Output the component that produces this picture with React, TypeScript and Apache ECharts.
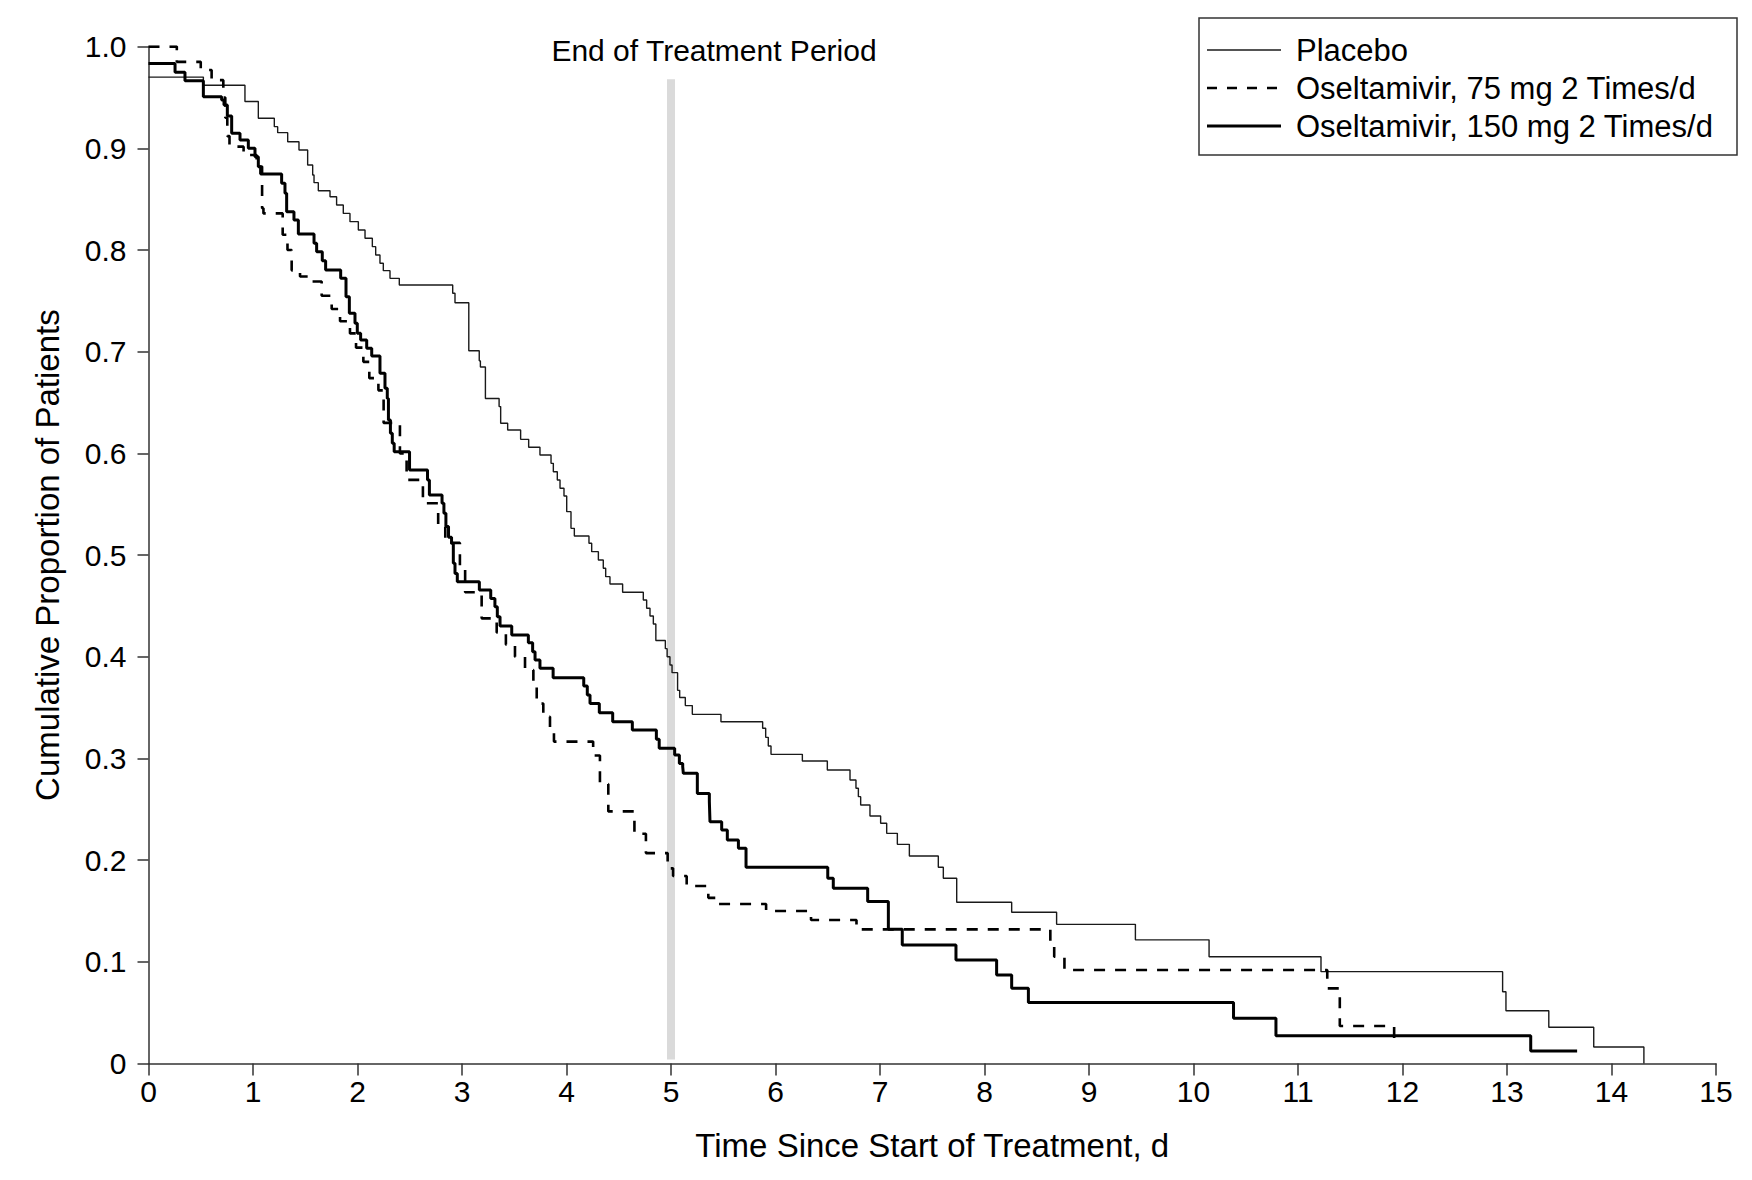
import React, { useEffect, useRef } from "react";
import * as echarts from "echarts";

// ---- Data ----
const placeboTimes = [0, 0.525, 0.923, 1.051, 1.204, 1.236, 1.332, 1.44, 1.523, 1.571, 1.584, 1.625, 1.737, 1.8, 1.864, 1.928, 2.008, 2.072, 2.142, 2.174, 2.215, 2.247, 2.311, 2.4, 2.911, 2.933, 3.065, 3.165, 3.176, 3.224, 3.355, 3.37, 3.437, 3.561, 3.638, 3.746, 3.852, 3.874, 3.912, 3.938, 3.976, 4.002, 4.043, 4.075, 4.215, 4.241, 4.305, 4.352, 4.375, 4.416, 4.537, 4.735, 4.767, 4.799, 4.831, 4.855, 4.946, 4.963, 4.99, 5.01, 5.063, 5.083, 5.137, 5.204, 5.478, 5.877, 5.906, 5.931, 5.957, 6.257, 6.496, 6.713, 6.77, 6.793, 6.815, 6.904, 7.006, 7.064, 7.166, 7.281, 7.558, 7.606, 7.734, 8.26, 8.69, 9.444, 10.149, 11.22, 12.958, 12.99, 13.4, 13.83, 14.31];
const placeboValues = [0.97, 0.962, 0.946, 0.9295, 0.9213, 0.9154, 0.9065, 0.8983, 0.8836, 0.8737, 0.8662, 0.8583, 0.8524, 0.8442, 0.836, 0.8279, 0.8197, 0.8115, 0.8033, 0.7951, 0.7869, 0.7797, 0.7721, 0.7656, 0.7574, 0.7482, 0.701, 0.691, 0.685, 0.654, 0.646, 0.6296, 0.623, 0.6138, 0.606, 0.5984, 0.5902, 0.582, 0.5738, 0.5657, 0.5581, 0.5427, 0.5263, 0.5188, 0.5116, 0.5034, 0.4952, 0.487, 0.4788, 0.4716, 0.4634, 0.4559, 0.4477, 0.4401, 0.4322, 0.416, 0.408, 0.4, 0.392, 0.3844, 0.367, 0.36, 0.352, 0.3434, 0.3362, 0.3297, 0.3208, 0.3123, 0.3041, 0.2975, 0.2887, 0.2789, 0.2707, 0.2625, 0.2543, 0.2435, 0.2363, 0.2264, 0.2156, 0.2041, 0.193, 0.1822, 0.1586, 0.1488, 0.1369, 0.1217, 0.1051, 0.0904, 0.0707, 0.052, 0.0357, 0.0163, 0];

const osel75Times = [0, 0.271, 0.5, 0.604, 0.716, 0.735, 0.754, 0.775, 0.91, 1.035, 1.087, 1.1, 1.284, 1.33, 1.37, 1.45, 1.55, 1.657, 1.753, 1.833, 1.928, 1.986, 2.056, 2.113, 2.2, 2.25, 2.406, 2.47, 2.626, 2.772, 2.84, 2.98, 3.03, 3.188, 3.332, 3.42, 3.507, 3.603, 3.683, 3.715, 3.778, 3.842, 3.88, 4.255, 4.32, 4.4, 4.65, 4.76, 4.968, 5.02, 5.15, 5.357, 5.443, 5.91, 6.34, 6.775, 8.63, 8.667, 8.765, 11.28, 11.4, 11.92];
const osel75Values = [1.0, 0.985, 0.977, 0.967, 0.95, 0.93, 0.912, 0.9016, 0.8934, 0.882, 0.841, 0.836, 0.815, 0.8, 0.78, 0.774, 0.769, 0.755, 0.742, 0.73, 0.718, 0.704, 0.69, 0.674, 0.662, 0.63, 0.6, 0.574, 0.551, 0.528, 0.512, 0.49, 0.4634, 0.4378, 0.424, 0.412, 0.4, 0.387, 0.372, 0.354, 0.341, 0.33, 0.3166, 0.303, 0.275, 0.248, 0.226, 0.207, 0.192, 0.1845, 0.1747, 0.163, 0.1569, 0.15, 0.1412, 0.132, 0.115, 0.105, 0.092, 0.074, 0.037, 0.017];

const osel150Times = [0, 0.254, 0.349, 0.525, 0.7, 0.7225, 0.7544, 0.7959, 0.8756, 0.9553, 1.019, 1.051, 1.073, 1.274, 1.306, 1.322, 1.392, 1.434, 1.584, 1.609, 1.663, 1.695, 1.839, 1.89, 1.922, 1.976, 1.998, 2.03, 2.088, 2.136, 2.215, 2.263, 2.285, 2.296, 2.315, 2.333, 2.351, 2.498, 2.67, 2.688, 2.809, 2.827, 2.846, 2.871, 2.9, 2.917, 2.933, 2.955, 3.166, 3.275, 3.315, 3.338, 3.364, 3.476, 3.635, 3.676, 3.699, 3.746, 3.872, 4.165, 4.199, 4.225, 4.314, 4.442, 4.63, 4.86, 4.887, 5.035, 5.08, 5.112, 5.118, 5.252, 5.367, 5.373, 5.485, 5.539, 5.645, 5.718, 6.5, 6.553, 6.882, 7.08, 7.213, 7.727, 8.116, 8.26, 8.42, 10.383, 10.789, 13.227, 13.671];
const osel150Values = [0.9835, 0.9747, 0.9665, 0.9508, 0.9475, 0.9426, 0.9318, 0.9147, 0.9082, 0.9, 0.8918, 0.8819, 0.8747, 0.8656, 0.8557, 0.8377, 0.8295, 0.8157, 0.8066, 0.7984, 0.7895, 0.7803, 0.7721, 0.7541, 0.7377, 0.7279, 0.7181, 0.7115, 0.7033, 0.6958, 0.6787, 0.664, 0.6541, 0.6328, 0.6197, 0.6099, 0.6017, 0.5837, 0.5738, 0.5591, 0.5509, 0.5411, 0.528, 0.5175, 0.5116, 0.4919, 0.482, 0.4739, 0.4657, 0.4574, 0.4492, 0.4394, 0.4302, 0.4214, 0.4138, 0.405, 0.3968, 0.3887, 0.3795, 0.3712, 0.3624, 0.3542, 0.345, 0.3362, 0.328, 0.3189, 0.31, 0.3035, 0.2952, 0.292, 0.2854, 0.2657, 0.2576, 0.2379, 0.2297, 0.2199, 0.2117, 0.193, 0.1822, 0.1724, 0.1593, 0.1321, 0.1167, 0.1019, 0.0872, 0.074, 0.06, 0.0445, 0.0275, 0.0124, 0.0124];

// End-of-treatment marker (day 5), drawn from 0.004 to 0.968
const treatmentEndTimes = [5, 5];
const treatmentEndValues = [0.004, 0.968];

const seriesNames = ["Placebo", "Oseltamivir, 75 mg 2 Times/d", "Oseltamivir, 150 mg 2 Times/d"];
const xAxisTitle = "Time Since Start of Treatment, d";
const yAxisTitle = "Cumulative Proportion of Patients";
const annotationText = "End of Treatment Period";

const FONT = "'Liberation Sans', Arial, Helvetica, sans-serif";

function toPairs(t: number[], v: number[]) {
  return t.map((x, i) => [x, v[i]]);
}

export default function App() {
  const ref = useRef<HTMLDivElement>(null);

  useEffect(() => {
    if (!ref.current) return;
    const chart = echarts.init(ref.current, undefined, { renderer: "svg" });

    const legendX = 1199;
    const legendY = 18;
    const rowY = [50, 88, 126];
    const lineX1 = 1207;
    const lineX2 = 1281;
    const textX = 1296;

    const option: any = {
      animation: false,
      backgroundColor: "#ffffff",
      textStyle: { fontFamily: FONT },
      grid: { left: 148.5, right: 36, top: 46.6, bottom: 116.4, containLabel: false },
      xAxis: {
        type: "value",
        min: 0,
        max: 15,
        interval: 1,
        name: xAxisTitle,
        nameLocation: "middle",
        nameGap: 65,
        nameTextStyle: { fontSize: 33, color: "#000", fontFamily: FONT },
        axisLine: { show: true, onZero: false, lineStyle: { color: "#333", width: 1.5 } },
        axisTick: { show: true, inside: false, length: 12, lineStyle: { color: "#333", width: 1.5 } },
        axisLabel: { fontSize: 30, color: "#000", margin: 13, fontFamily: FONT },
        splitLine: { show: false },
      },
      yAxis: {
        type: "value",
        min: 0,
        max: 1,
        interval: 0.1,
        name: yAxisTitle,
        nameLocation: "middle",
        nameGap: 85,
        nameTextStyle: { fontSize: 33, color: "#000", fontFamily: FONT },
        axisLine: { show: true, lineStyle: { color: "#333", width: 1.5 } },
        axisTick: { show: true, inside: false, length: 11, lineStyle: { color: "#333", width: 1.5 } },
        axisLabel: {
          fontSize: 30,
          color: "#000",
          margin: 22,
          fontFamily: FONT,
          formatter: (v: number) => (Math.abs(v) < 1e-9 ? "0" : v.toFixed(1)),
        },
        splitLine: { show: false },
      },
      series: [
        {
          name: "End of Treatment",
          type: "line",
          data: toPairs(treatmentEndTimes, treatmentEndValues),
          symbol: "none",
          silent: true,
          z: 1,
          lineStyle: { color: "#dadada", width: 8, cap: "butt" },
        },
        {
          name: seriesNames[0],
          type: "line",
          step: "end",
          data: toPairs(placeboTimes, placeboValues),
          symbol: "none",
          z: 3,
          lineStyle: { color: "#1a1a1a", width: 1.4 },
        },
        {
          name: seriesNames[1],
          type: "line",
          step: "end",
          data: toPairs(osel75Times, osel75Values),
          symbol: "none",
          z: 3,
          lineStyle: { color: "#000", width: 2.6, type: [11, 10] },
        },
        {
          name: seriesNames[2],
          type: "line",
          step: "end",
          data: toPairs(osel150Times, osel150Values),
          symbol: "none",
          z: 3,
          lineStyle: { color: "#000", width: 3 },
        },
      ],
      graphic: [
        {
          type: "text",
          x: 714,
          y: 50,
          z: 10,
          style: {
            text: annotationText,
            fontSize: 30,
            fontFamily: FONT,
            fill: "#000",
            align: "center",
            verticalAlign: "middle",
            textAlign: "center",
            textVerticalAlign: "middle",
          },
        },
        {
          type: "rect",
          z: 10,
          shape: { x: legendX, y: legendY, width: 538, height: 137 },
          style: { fill: "#fff", stroke: "#333", lineWidth: 1.5 },
        },
        {
          type: "line",
          z: 11,
          shape: { x1: lineX1, y1: rowY[0], x2: lineX2, y2: rowY[0] },
          style: { stroke: "#1a1a1a", lineWidth: 1.4 },
        },
        {
          type: "line",
          z: 11,
          shape: { x1: lineX1, y1: rowY[1], x2: lineX2, y2: rowY[1] },
          style: { stroke: "#000", lineWidth: 2.6, lineDash: [10, 10] },
        },
        {
          type: "line",
          z: 11,
          shape: { x1: lineX1, y1: rowY[2], x2: lineX2, y2: rowY[2] },
          style: { stroke: "#000", lineWidth: 3 },
        },
        ...seriesNames.map((name, i) => ({
          type: "text",
          x: textX,
          y: rowY[i],
          z: 11,
          style: {
            text: name,
            fontSize: 31,
            fontFamily: FONT,
            fill: "#000",
            align: "left",
            verticalAlign: "middle",
            textAlign: "left",
            textVerticalAlign: "middle",
          },
        })),
      ],
    };

    chart.setOption(option);
    return () => {
      chart.dispose();
    };
  }, []);

  return (
    <div
      ref={ref}
      style={{ position: "fixed", left: 0, top: 0, width: 1752, height: 1180, background: "#fff" }}
    />
  );
}
